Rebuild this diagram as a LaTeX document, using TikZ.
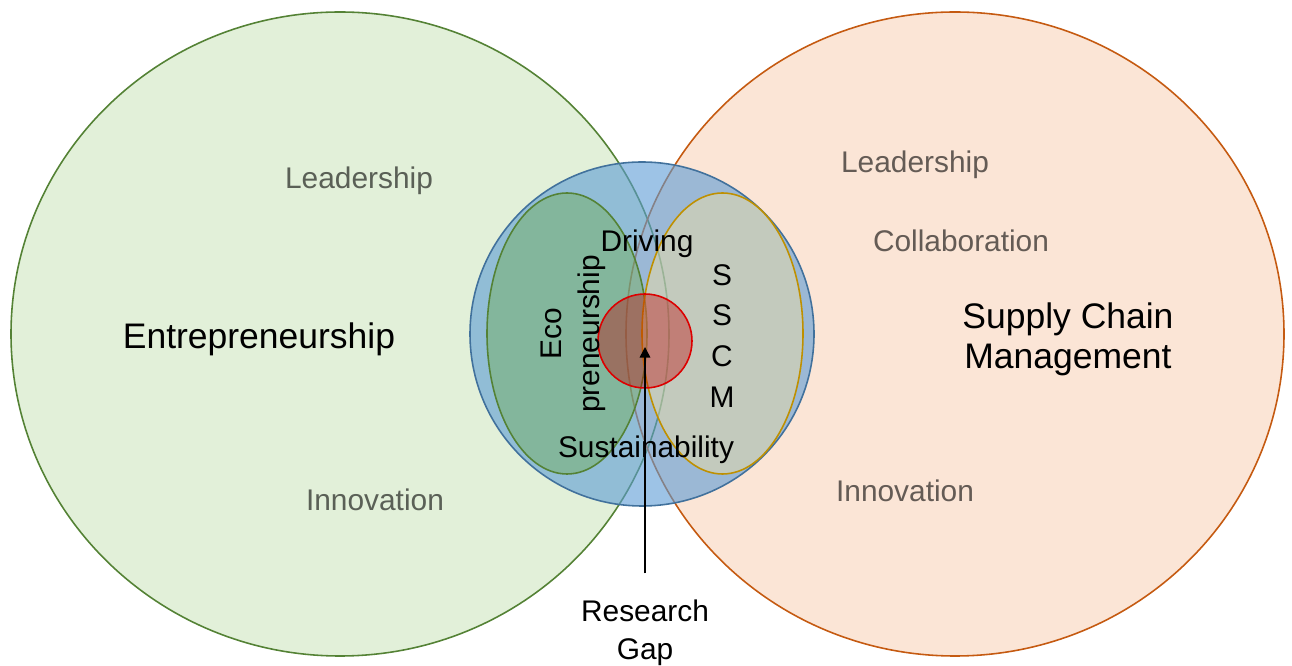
\documentclass[tikz,border=0pt]{standalone}
\usepackage{fontspec}
\setmainfont{Liberation Sans}
\usetikzlibrary{arrows.meta}
\definecolor{EntGreen}{HTML}{548235}
\definecolor{EntFill}{HTML}{E2F0D9}
\definecolor{SCMOrange}{HTML}{C55A11}
\definecolor{SCMFill}{HTML}{FBE5D6}
\definecolor{SusBlue}{HTML}{5B9BD5}
\definecolor{SusEdge}{HTML}{41719C}
\definecolor{EcoGreen}{HTML}{70AD47}
\definecolor{SSCMGold}{HTML}{BF9000}
\definecolor{SSCMFill}{HTML}{FFE699}
\definecolor{GapRed}{HTML}{C00000}

\begin{document}
\begin{tikzpicture}[
			x=0.02cm, y=0.02cm,
			word/.style={font=\fontsize{17}{21.6}\selectfont, align=center},
			bigword/.style={font=\fontsize{20.2}{22.7}\selectfont, align=center},
			soft/.style={word, text opacity=0.6},
			ring/.style={line width=0.9pt},
			]
			\useasboundingbox (0,0) rectangle (1292,666);
			% the two big fields
			\fill[EntFill] (340,332) ellipse [x radius=329, y radius=322];
			\fill[SCMFill] (955,332) ellipse [x radius=329, y radius=322];
			\draw[ring, EntGreen] (340,332) ellipse [x radius=329, y radius=322];
			\draw[ring, SCMOrange] (955,332) ellipse [x radius=329, y radius=322];
			% overlap in the middle
			\filldraw[ring, draw=SusEdge, fill=SusBlue, fill opacity=0.6] (642,332) circle [radius=172];
			\filldraw[ring, draw=EntGreen, fill=EcoGreen, fill opacity=0.4] (567,332.5) ellipse [x radius=80, y radius=140.5];
			\filldraw[ring, draw=SSCMGold, fill=SSCMFill, fill opacity=0.4] (722.5,332.5) ellipse [x radius=80.5, y radius=140.5];
			\filldraw[ring, draw=GapRed!55!red, fill=GapRed, fill opacity=0.37] (645,325) circle [radius=47];
			
			\node (lead1) [soft] at (359,485) {Leadership};
			\node (inno1) [soft] at (375,166) {Innovation};
			\node (ent) [bigword] at (259,327) {Entrepreneurship};
			\node (lead2) [soft] at (915,501) {Leadership};
			\node (collab) [soft] at (961,425) {Collaboration};
			\node (inno2) [soft] at (905,175) {Innovation};
			\node (scm) [bigword] at (1068,327) {Supply Chain\\Management};
			\node (driving) [word] at (647,422) {Driving};
			\node (sustain) [word] at (646,216) {Sustainability};
			\node (eco) [word, rotate=90] at (573,332) {Eco\\preneurship};
			\node (sscm) [word, font=\fontsize{17}{23.3}\selectfont] at (722,330) {S\\S\\C\\M}; % letters stacked
			\node (gap) [word, inner ysep=15pt] at (645,33) {Research\\Gap};
			\coordinate (core) at (645,319);
			
			\draw[-{Triangle[width=6pt,length=6pt]}, line width=0.85pt] (gap) -- (core);
		\end{tikzpicture}
\end{document}
